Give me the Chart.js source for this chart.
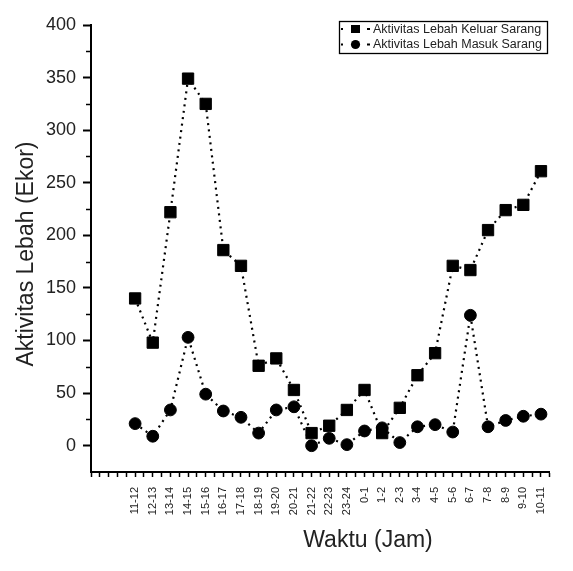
<!DOCTYPE html>
<html>
<head>
<meta charset="utf-8">
<script src="https://cdn.jsdelivr.net/npm/chart.js@4.4.1/dist/chart.umd.min.js"></script>
<style>
html,body{margin:0;padding:0;background:#fff;}
#wrap{width:573px;height:571px;position:relative;}
</style>
</head>
<body>
<div id="wrap"><canvas id="c" width="573" height="571"></canvas></div>
<script>
const categories = ["11-12","12-13","13-14","14-15","15-16","16-17","17-18","18-19","19-20","20-21","21-22","22-23","23-24","0-1","1-2","2-3","3-4","4-5","5-6","6-7","7-8","8-9","9-10","10-11"];
const keluar = [140, 98, 222, 349, 325, 186, 171, 76, 83, 53, 12, 19, 34, 53, 12, 36, 67, 88, 171, 167, 205, 224, 229, 261];
const masuk  = [21, 9, 34, 103, 49, 33, 27, 12, 34, 37, 0, 7, 1, 14, 17, 3, 18, 20, 13, 124, 18, 24, 28, 30];
const seriesNames = ["Aktivitas Lebah Keluar Sarang", "Aktivitas Lebah Masuk Sarang"];
const xTitle = "Waktu (Jam)";
const yTitle = "Aktivitas Lebah (Ekor)";

const FONT = "'Liberation Sans', Arial, sans-serif";

const toXY = arr => arr.map((v, i) => ({x: i, y: v}));

const extras = {
  id: 'extras',
  afterDraw(chart) {
    const ctx = chart.ctx;
    const ya = chart.scales.y;
    const left = chart.chartArea.left;
    ctx.save();
    // minor y ticks
    ctx.strokeStyle = '#000';
    ctx.lineWidth = 1.5;
    for (let v = 25; v < 400; v += 50) {
      const py = Math.round(ya.getPixelForValue(v)) + 0.5;
      ctx.beginPath(); ctx.moveTo(left - 5, py); ctx.lineTo(left, py); ctx.stroke();
    }
    // axis titles
    ctx.fillStyle = '#222';
    ctx.font = '23px ' + FONT;
    ctx.textAlign = 'center';
    ctx.textBaseline = 'middle';
    ctx.fillText(xTitle, 368, 541);
    ctx.save();
    ctx.translate(27, 254);
    ctx.rotate(-Math.PI / 2);
    ctx.fillText(yTitle, 0, 0);
    ctx.restore();
    // legend
    const bx = 339, by = 21, bw = 208, bh = 32;
    ctx.lineWidth = 1.3;
    ctx.strokeStyle = '#000';
    ctx.strokeRect(bx + 0.5, by + 0.5, bw, bh);
    const rows = [29, 44.5];
    ctx.font = '12.5px ' + FONT;
    ctx.textAlign = 'left';
    chart.data.datasets.forEach((ds, i) => {
      const cy = rows[i];
      ctx.fillStyle = '#000';
      ctx.fillRect(341, cy - 1, 2, 2);
      ctx.fillRect(367, cy - 1, 3, 2);
      if (ds.pointStyle === 'rect') {
        ctx.fillRect(351, cy - 4, 9, 8);
      } else {
        ctx.beginPath(); ctx.arc(355.5, cy, 4.6, 0, Math.PI * 2); ctx.fill();
      }
      ctx.fillStyle = '#222';
      ctx.fillText(seriesNames[i], 373, cy + 0.5);
    });
    ctx.restore();
  }
};

new Chart(document.getElementById('c'), {
  type: 'line',
  data: {
    datasets: [
      {
        label: seriesNames[0],
        data: toXY(keluar),
        borderColor: '#000',
        backgroundColor: '#000',
        borderWidth: 2.2,
        borderDash: [2, 4.5],
        pointStyle: 'rect',
        pointRadius: 8,
        pointBorderWidth: 1,
        tension: 0,
        order: 2
      },
      {
        label: seriesNames[1],
        data: toXY(masuk),
        borderColor: '#000',
        backgroundColor: '#000',
        borderWidth: 2.2,
        borderDash: [2, 4.5],
        pointStyle: 'circle',
        pointRadius: 5.9,
        pointBorderWidth: 1,
        tension: 0,
        order: 1
      }
    ]
  },
  options: {
    responsive: false,
    animation: false,
    devicePixelRatio: 1,
    layout: { padding: { top: 25, right: 16, left: 0, bottom: 0 } },
    plugins: { legend: { display: false }, tooltip: { enabled: false } },
    scales: {
      x: {
        type: 'linear',
        min: -2.5,
        max: 23.5,
        afterFit(s) { s.height = 99; },
        afterBuildTicks(s) {
          const t = [];
          for (let v = -2.5; v <= 23.5001; v += 0.5) t.push({value: v});
          s.ticks = t;
        },
        border: { display: true, color: '#000', width: 2 },
        grid: { display: true, drawOnChartArea: false, drawTicks: true, tickLength: 5, tickWidth: 1.5, tickColor: '#000' },
        ticks: {
          autoSkip: false,
          maxRotation: 90,
          minRotation: 90,
          padding: 10,
          color: '#222',
          font: { family: FONT, size: 11 },
          callback(v) {
            return (Number.isInteger(v) && v >= 0 && v < categories.length) ? categories[v] : '';
          }
        }
      },
      y: {
        type: 'linear',
        min: -25,
        max: 400,
        afterFit(s) { s.width = 91; },
        border: { display: true, color: '#000', width: 2 },
        grid: {
          display: true, drawOnChartArea: false, drawTicks: true, tickLength: 8, tickWidth: 2,
          tickColor: c => (c.tick && c.tick.value % 50 === 0) ? '#000' : 'rgba(0,0,0,0)'
        },
        ticks: {
          stepSize: 25,
          padding: 7,
          color: '#222',
          font: { family: FONT, size: 18 },
          callback(v) { return (v % 50 === 0 && v >= 0) ? String(v) : ''; }
        }
      }
    }
  },
  plugins: [extras]
});
</script>
</body>
</html>
